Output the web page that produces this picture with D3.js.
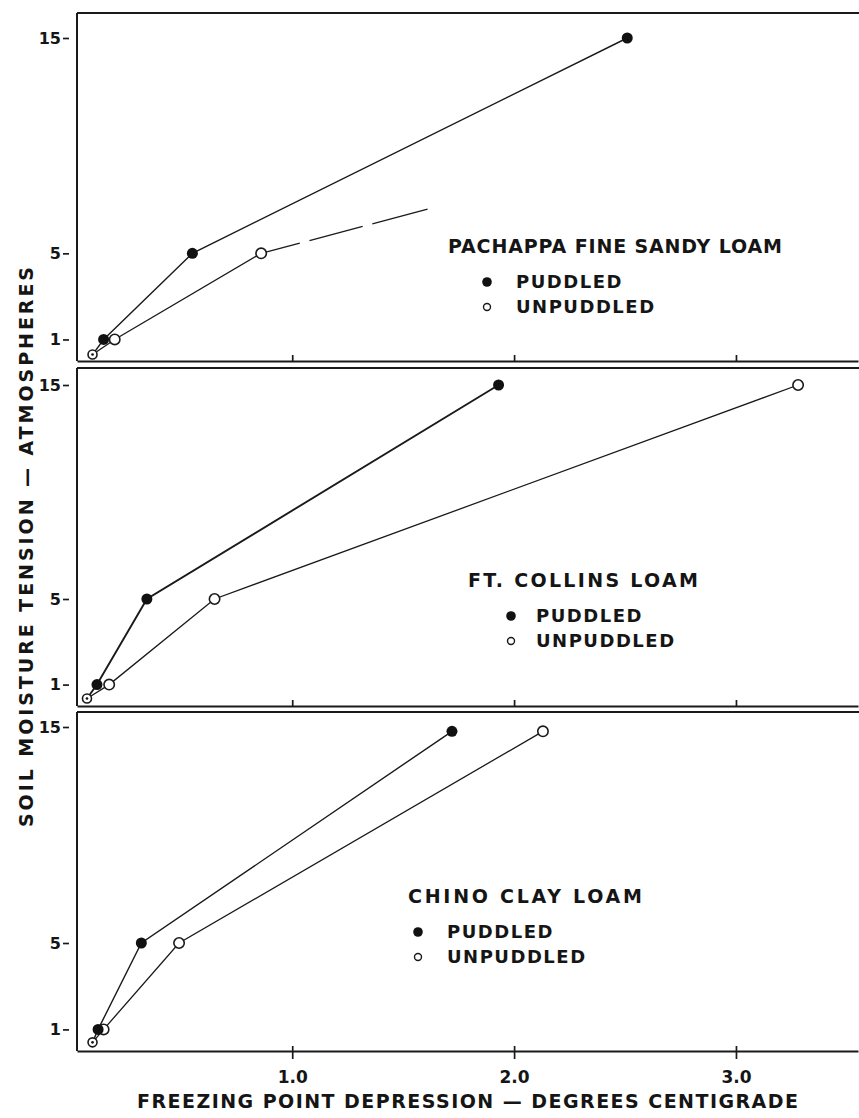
<!DOCTYPE html>
<html>
  <head>
    <title>freezing point depression</title>
    <script src="https://d3js.org/d3.v7.min.js"></script>
    <style>
      body { margin: 0; background: #fff; }
      text { font-family: "DejaVu Sans", sans-serif; font-weight: bold; fill: #151515; }
    </style>
  </head>
  <body>
    <div id="vis"></div>
    <script>
      var width = 859;
      var height = 1118;

      // data: [freezing point depression (deg C), tension (atm)]
      var xTicks = [1.0, 2.0, 3.0];
      var xTickLabels = ["1.0", "2.0", "3.0"];
      var yTicks = [1, 5, 15];
      var soilNames = ["PACHAPPA FINE SANDY LOAM", "FT. COLLINS LOAM", "CHINO CLAY LOAM"];
      var seriesNames = ["PUDDLED", "UNPUDDLED"];

      var pachappaPuddled = [[0.10, 0.3], [0.15, 1], [0.55, 5], [2.51, 15]];
      var pachappaUnpuddled = [[0.10, 0.3], [0.20, 1], [0.86, 5]];
      var pachappaUnpuddledDashed = [[0.86, 5], [1.61, 7.05]];

      var collinsPuddled = [[0.075, 0.35], [0.12, 1], [0.345, 5], [1.93, 15]];
      var collinsUnpuddled = [[0.075, 0.35], [0.175, 1], [0.65, 5], [3.28, 15]];

      var chinoPuddled = [[0.10, 0.4], [0.125, 1], [0.32, 5], [1.72, 14.8]];
      var chinoUnpuddled = [[0.10, 0.4], [0.15, 1], [0.49, 5], [2.13, 14.8]];

      // page layout of the three stacked panels
      var panels = [
        { top: 13, bottom: 361, y15: 38, puddled: pachappaPuddled, unpuddled: pachappaUnpuddled,
          dashed: pachappaUnpuddledDashed, legX: 448, legY: 253, legW: 334, dotX: 487, textX: 516 },
        { top: 368, bottom: 706, y15: 385, puddled: collinsPuddled, unpuddled: collinsUnpuddled,
          dashed: null, legX: 468, legY: 587, legW: 230, dotX: 511, textX: 536 },
        { top: 712, bottom: 1051, y15: 727, puddled: chinoPuddled, unpuddled: chinoUnpuddled,
          dashed: null, legX: 408, legY: 903, legW: 234, dotX: 418, textX: 447 }
      ];

      var svg = d3.select("#vis")
        .append("svg")
        .attr("width", width)
        .attr("height", height);

      var x = d3.scaleLinear()
        .domain([0.03, 3.55])
        .range([77, 858]);

      panels.forEach(function(p, i) {
        var y = d3.scaleLinear()
          .domain([0, 15])
          .range([p.bottom, p.y15]);
        var last = i == panels.length - 1;

        var g = svg.append("g");

        // frame: top and left edges
        g.append("line")
          .attr("x1", 77).attr("x2", width)
          .attr("y1", p.top).attr("y2", p.top)
          .attr("stroke", "#1a1a1a").attr("stroke-width", 2);
        g.append("line")
          .attr("x1", 77).attr("x2", 77)
          .attr("y1", p.top).attr("y2", p.bottom)
          .attr("stroke", "#1a1a1a").attr("stroke-width", 2);

        var xAxis = d3.axisBottom(x)
          .tickValues(xTicks)
          .tickSizeOuter(0);
        if (last) {
          xAxis.tickSizeInner(8).tickPadding(12)
            .tickFormat(function(d, k) { return xTickLabels[k]; });
        } else {
          xAxis.tickSizeInner(-6).tickFormat("");
        }
        var gx = g.append("g")
          .attr("transform", "translate(0, " + p.bottom + ")")
          .call(xAxis);
        gx.select(".domain").attr("stroke", "#1a1a1a").attr("stroke-width", 2);
        gx.selectAll(".tick line").attr("stroke", "#1a1a1a").attr("stroke-width", 1.7);
        if (last) {
          gx.selectAll(".tick line").attr("y1", -5);
          gx.selectAll(".tick text").style("font-size", "17px").attr("fill", "#151515");
        }

        var gy = g.append("g")
          .attr("transform", "translate(77, 0)")
          .call(d3.axisLeft(y).tickValues(yTicks).tickSize(0).tickPadding(16));
        gy.select(".domain").remove();
        gy.selectAll(".tick line")
          .attr("x1", -14).attr("x2", -8)
          .attr("stroke", "#1a1a1a").attr("stroke-width", 1.7);
        gy.selectAll(".tick text").style("font-size", "16px").attr("fill", "#151515");

        var line = d3.line()
          .x(function(d) { return x(d[0]); })
          .y(function(d) { return y(d[1]); });

        g.append("path")
          .datum(p.puddled)
          .attr("d", line)
          .attr("fill", "none").attr("stroke", "#1a1a1a").attr("stroke-width", i == 1 ? 1.9 : 1.4);
        g.append("path")
          .datum(p.unpuddled)
          .attr("d", line)
          .attr("fill", "none").attr("stroke", "#1a1a1a").attr("stroke-width", 1.3);
        if (p.dashed) {
          g.append("path")
            .datum(p.dashed)
            .attr("d", line)
            .attr("fill", "none").attr("stroke", "#1a1a1a").attr("stroke-width", 1.3)
            .attr("stroke-dasharray", "40,10,55,10,60");
        }

        g.selectAll(".open")
          .data(p.unpuddled)
          .enter()
          .append("circle")
          .attr("cx", function(d) { return x(d[0]); })
          .attr("cy", function(d) { return y(d[1]); })
          .attr("r", function(d, k) { return k == 0 ? 4.5 : 5.2; })
          .attr("fill", "#fff").attr("stroke", "#1a1a1a").attr("stroke-width", 1.6);

        g.selectAll(".filled")
          .data(p.puddled)
          .enter()
          .append("circle")
          .attr("cx", function(d) { return x(d[0]); })
          .attr("cy", function(d) { return y(d[1]); })
          .attr("r", function(d, k) { return k == 0 ? 1.3 : 5.5; })
          .attr("fill", "#111");

        // legend
        g.append("text")
          .attr("x", p.legX).attr("y", p.legY)
          .attr("textLength", p.legW).attr("lengthAdjust", "spacing")
          .style("font-size", "19px")
          .text(soilNames[i]);
        g.append("circle")
          .attr("cx", p.dotX).attr("cy", p.legY + 29)
          .attr("r", 4.8).attr("fill", "#111");
        g.append("circle")
          .attr("cx", p.dotX).attr("cy", p.legY + 54)
          .attr("r", 3.5).attr("fill", "#fff")
          .attr("stroke", "#1a1a1a").attr("stroke-width", 1.4);
        g.append("text")
          .attr("x", p.textX).attr("y", p.legY + 35)
          .style("font-size", "18px").style("letter-spacing", "1.5px")
          .text(seriesNames[0]);
        g.append("text")
          .attr("x", p.textX).attr("y", p.legY + 60)
          .style("font-size", "18px").style("letter-spacing", "1.5px")
          .text(seriesNames[1]);
      });

      svg.append("text")
        .attr("x", 137).attr("y", 1108)
        .attr("textLength", 661).attr("lengthAdjust", "spacing")
        .style("font-size", "19px")
        .text("FREEZING POINT DEPRESSION — DEGREES CENTIGRADE");

      svg.append("text")
        .attr("transform", "translate(33, 547) rotate(-90)")
        .attr("text-anchor", "middle")
        .attr("textLength", 560).attr("lengthAdjust", "spacing")
        .style("font-size", "19px")
        .text("SOIL MOISTURE TENSION — ATMOSPHERES");
    </script>
  </body>
</html>
